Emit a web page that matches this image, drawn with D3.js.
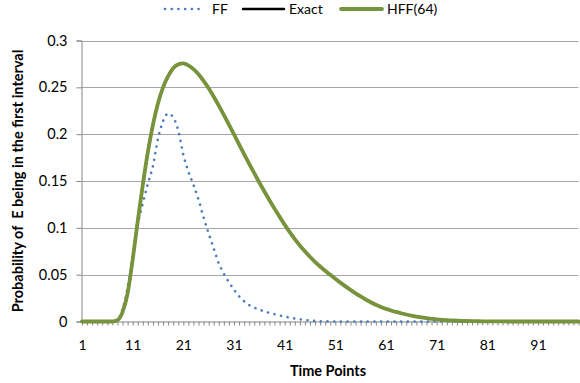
<!DOCTYPE html>
<html>
<head>
<meta charset="utf-8">
<script src="https://cdn.jsdelivr.net/npm/d3@7"></script>
<style>
  body { margin: 0; background: #fff; }
  svg { font-family: Lato, "Open Sans", sans-serif; }
</style>
</head>
<body>
<svg id="chart" width="580" height="383"></svg>
<script>
// time points 1..99
var timePoints = d3.range(1, 100);

// values
var ffValues = [
  0, 0, 0, 0, 0, 0, 0, 0.001, 0.013, 0.036,
  0.07, 0.103, 0.126, 0.147, 0.166, 0.195, 0.214, 0.222, 0.218, 0.204,
  0.178, 0.160, 0.146, 0.130, 0.111, 0.094, 0.078, 0.062, 0.051, 0.042,
  0.034, 0.027, 0.0215, 0.0175, 0.0148, 0.0127, 0.0108, 0.0092, 0.0078, 0.0065,
  0.0053, 0.0042, 0.0032, 0.0023, 0.0016, 0.001, 0.0006, 0.0003, 0.0002, 0.0001,
  0, 0, 0, 0, 0, 0, 0, 0, 0, 0,
  0, 0, 0, 0, 0, 0, 0, 0, 0, 0,
  0, 0, 0, 0, 0, 0, 0, 0, 0, 0,
  0, 0, 0, 0, 0, 0, 0, 0, 0, 0,
  0, 0, 0, 0, 0, 0, 0, 0, 0
];

var exactValues = [
  0, 0, 0, 0, 0, 0, 0, 0.0015, 0.01, 0.03,
  0.066, 0.107, 0.146, 0.181, 0.21, 0.233, 0.25, 0.262, 0.2705, 0.2745,
  0.2755, 0.2735, 0.2695, 0.264, 0.257, 0.249, 0.240, 0.2305, 0.2205, 0.2102,
  0.1997, 0.1892, 0.1787, 0.1684, 0.1583, 0.1484, 0.1388, 0.1295, 0.1205, 0.1118,
  0.1034, 0.0954, 0.088, 0.0812, 0.0749, 0.0691, 0.0637, 0.0587, 0.0541, 0.0498,
  0.0456, 0.0415, 0.0375, 0.0337, 0.0301, 0.0267, 0.0235, 0.0205, 0.0178, 0.0155,
  0.0135, 0.0118, 0.0102, 0.0088, 0.0075, 0.0063, 0.0053, 0.0044, 0.0036, 0.0029,
  0.0023, 0.0018, 0.0014, 0.0011, 0.0008, 0.0006, 0.0005, 0.0004, 0.0003, 0.0002,
  0.0002, 0.0001, 0.0001, 0.0001, 0, 0, 0, 0, 0, 0,
  0, 0, 0, 0, 0, 0, 0, 0, 0
];

var hffValues = [
  0, 0, 0, 0, 0, 0, 0, 0.0015, 0.01, 0.03,
  0.066, 0.107, 0.146, 0.181, 0.21, 0.233, 0.25, 0.262, 0.2705, 0.2745,
  0.2755, 0.2735, 0.2695, 0.264, 0.257, 0.249, 0.240, 0.2305, 0.2205, 0.2102,
  0.1997, 0.1892, 0.1787, 0.1684, 0.1583, 0.1484, 0.1388, 0.1295, 0.1205, 0.1118,
  0.1034, 0.0954, 0.088, 0.0812, 0.0749, 0.0691, 0.0637, 0.0587, 0.0541, 0.0498,
  0.0456, 0.0415, 0.0375, 0.0337, 0.0301, 0.0267, 0.0235, 0.0205, 0.0178, 0.0155,
  0.0135, 0.0118, 0.0102, 0.0088, 0.0075, 0.0063, 0.0053, 0.0044, 0.0036, 0.0029,
  0.0023, 0.0018, 0.0014, 0.0011, 0.0008, 0.0006, 0.0005, 0.0004, 0.0003, 0.0002,
  0.0002, 0.0001, 0.0001, 0.0001, 0, 0, 0, 0, 0, 0,
  0, 0, 0, 0, 0, 0, 0, 0, 0
];

var yTicks = [0, 0.05, 0.1, 0.15, 0.2, 0.25, 0.3];
var xLabels = [1, 11, 21, 31, 41, 51, 61, 71, 81, 91];

var series = [
  { name: 'FF', values: ffValues, color: '#4a7ebb', width: 2.6, dash: '0.1 6.6' },
  { name: 'Exact', values: exactValues, color: '#000000', width: 2.5, dash: null },
  { name: 'HFF(64)', values: hffValues, color: '#77933c', width: 3.8, dash: null }
];

var svg = d3.select('#chart');
var plotLeft = 81.5, plotRight = 578.5, plotTop = 40.5, plotBottom = 321.5;

var x = d3.scalePoint().domain(timePoints).range([plotLeft + 0.5, plotRight]);
var y = d3.scaleLinear().domain([0, 0.3]).range([plotBottom, plotTop]);

// gridlines
svg.append('g').selectAll('line')
  .data(yTicks.slice(1))
  .enter().append('line')
  .attr('x1', plotLeft).attr('x2', plotRight)
  .attr('y1', function(d) { return Math.round(y(d)) + 0.5; })
  .attr('y2', function(d) { return Math.round(y(d)) + 0.5; })
  .attr('stroke', '#a6a6a6')
  .attr('stroke-width', 1);

// y axis
var yAxis = svg.append('g')
  .attr('transform', 'translate(' + plotLeft + ',0)')
  .call(d3.axisLeft(y).tickValues(yTicks).tickSize(5).tickPadding(9)
    .tickFormat(function(d) { return d === 0 ? '0' : d3.format('~g')(d); }));
yAxis.select('.domain').attr('stroke', '#868686');
yAxis.selectAll('.tick line').attr('stroke', '#868686');
yAxis.selectAll('text').attr('font-size', 14.5).attr('fill', '#000').attr('font-family', 'Lato');

// x axis
var xAxis = svg.append('g')
  .attr('transform', 'translate(0,' + plotBottom + ')')
  .call(d3.axisBottom(x).tickSize(4).tickPadding(15).tickSizeOuter(0)
    .tickFormat(function(d) { return xLabels.indexOf(d) >= 0 ? d : ''; }));
xAxis.select('.domain').attr('stroke', '#868686');
xAxis.selectAll('.tick line').attr('stroke', '#868686');
xAxis.selectAll('text').attr('font-size', 14).attr('fill', '#000').attr('font-family', 'Lato');

// lines
var line = d3.line()
  .x(function(d, i) { return x(timePoints[i]); })
  .y(function(d) { return y(d); })
  .curve(d3.curveMonotoneX);

series.forEach(function(s) {
  svg.append('path')
    .datum(s.values)
    .attr('d', line)
    .attr('fill', 'none')
    .attr('stroke', s.color)
    .attr('stroke-width', s.width)
    .attr('stroke-linecap', 'round')
    .attr('stroke-linejoin', 'round')
    .attr('stroke-dasharray', s.dash);
});

// legend
var legendPos = [165, 243, 341];
var legend = svg.append('g');
series.forEach(function(s, i) {
  var g = legend.append('g').attr('transform', 'translate(' + legendPos[i] + ',9)');
  g.append('line')
    .attr('x1', 0).attr('x2', s.dash ? 38 : 41)
    .attr('y1', 0).attr('y2', 0)
    .attr('stroke', s.color)
    .attr('stroke-width', s.width)
    .attr('stroke-linecap', 'round')
    .attr('stroke-dasharray', s.dash);
  g.append('text')
    .attr('x', s.dash ? 47 : 46)
    .attr('y', 5)
    .attr('font-size', 14)
    .text(s.name);
});

// axis titles
svg.append('text')
  .attr('x', 328).attr('y', 376)
  .attr('text-anchor', 'middle')
  .attr('font-size', 14.5).attr('font-weight', 'bold')
  .text('Time Points');

svg.append('text')
  .attr('transform', 'translate(23,181) rotate(-90)')
  .attr('text-anchor', 'middle')
  .attr('font-size', 14.5).attr('font-weight', 'bold')
  .style('white-space', 'pre')
  .text('Probability of  E being in the first interval');
</script>
</body>
</html>
